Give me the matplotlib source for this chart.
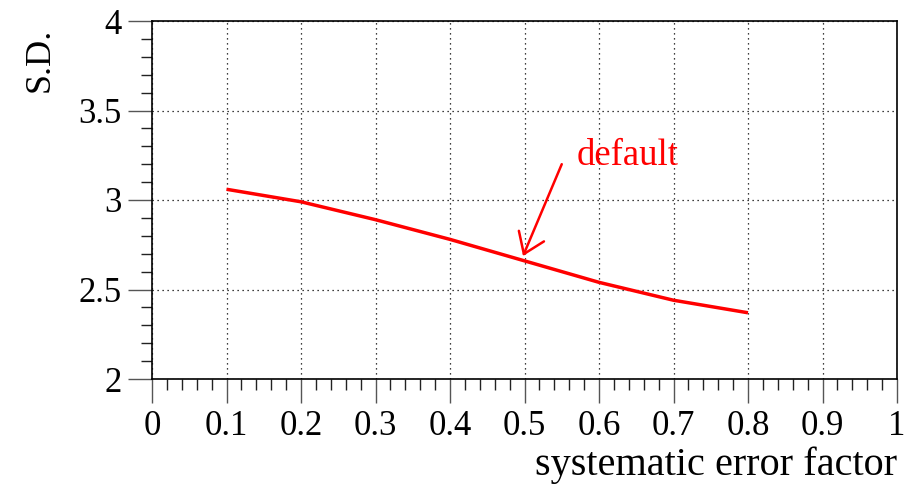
import numpy as np
import matplotlib.pyplot as plt
from matplotlib.ticker import MultipleLocator

factor = [0.1, 0.2, 0.3, 0.4, 0.5, 0.6, 0.7, 0.8]
sd = [3.06, 2.99, 2.89, 2.78, 2.66, 2.54, 2.44, 2.37]

plt.rcParams['font.family'] = ['Liberation Serif', 'DejaVu Serif']

fig = plt.figure(figsize=(9.17, 4.86), dpi=100)
ax = fig.add_axes([152 / 917, 1 - 379 / 486, 745 / 917, 358 / 486])

ax.plot(factor, sd, color='red', lw=2.5, solid_capstyle='butt')

ax.set_xlim(0, 1)
ax.set_ylim(2, 4)
ax.xaxis.set_minor_locator(MultipleLocator(0.02))
ax.yaxis.set_minor_locator(MultipleLocator(0.1))
ax.set_xticks(np.arange(0, 1.01, 0.1))
ax.set_xticklabels(['0', '0.1', '0.2', '0.3', '0.4', '0.5', '0.6', '0.7', '0.8', '0.9', '1'])
ax.set_yticks([2, 2.5, 3, 3.5, 4])
ax.set_yticklabels(['2', '2.5', '3', '3.5', '4'])

ax.tick_params(which='major', direction='out', length=17, width=1, labelsize=25,
               color='#555555', pad=5)
ax.tick_params(which='minor', direction='out', length=8, width=1, color='#222222')
ax.grid(which='major', color='black', linestyle=(0, (1, 3)), lw=0.9)

for s in ax.spines.values():
    s.set_linewidth(1.2)
    s.set_color('black')

# arrow pointing at the default value
ax.annotate('', xy=(0.498, 2.687), xytext=(0.550, 3.20),
            arrowprops=dict(arrowstyle='->, head_length=0.4, head_width=0.28',
                            color='red', lw=1.8,
                            mutation_scale=35, shrinkA=0, shrinkB=0))
ax.text(0.570, 3.195, 'default', color='red', fontsize=26.5, ha='left', va='baseline')

fig.text(897 / 917, 1 - 465 / 486, 'systematic error factor', fontsize=29,
         ha='right', va='center')
fig.text(40 / 917, 1 - 60 / 486, 'S.D.', fontsize=26, rotation=90,
         ha='center', va='center')

fig.savefig('out.png', dpi=100)
